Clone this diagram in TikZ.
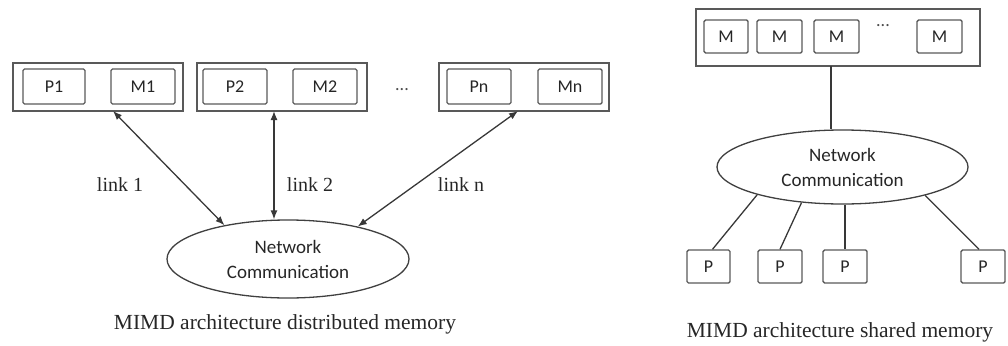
\documentclass[tikz,border=0pt]{standalone}
\usepackage{fontspec}
\setmainfont{Liberation Serif}
\newfontfamily\boxfont{Carlito}
\usetikzlibrary{shapes.geometric,arrows.meta,calc}

\tikzset{
  wire/.style={draw=black!78, line width=1.3pt},
  linkarrow/.style={wire, {Latex[length=9pt,width=7pt]}-{Latex[length=9pt,width=7pt]}},
  holder/.style={draw=black!65, line width=1.4pt, minimum height=#1, inner sep=0pt},
  cell/.style={draw=black!65, line width=1.4pt, rounded corners=1.5pt, inner sep=0pt,
    minimum height=33pt, font=\boxfont\fontsize{18}{20}\selectfont, text=black!85},
  net/.style={ellipse, draw=black!75, line width=1.3pt, inner sep=0pt, align=center,
    font=\boxfont\fontsize{19}{25}\selectfont, text=black!85},
  lbl/.style={font=\fontsize{20}{24}\selectfont, text=black!85},
  captext/.style={font=\fontsize{21.5}{24}\selectfont, text=black!85}
}

\begin{document}
\begin{tikzpicture}[x=1pt,y=-1pt]
\useasboundingbox (0,0) rectangle (1008,345);

% ---- distributed memory ----
\node[holder=48pt, minimum width=170pt] (o1) at (98,87) {};
\node[holder=48pt, minimum width=170pt] (o2) at (282,87) {};
\node[holder=48pt, minimum width=170pt] (on) at (524,87) {};

\node[cell, minimum width=62pt, minimum height=35pt] (p1) at (54,86.5) {P1};
\node[cell, minimum width=64pt, minimum height=35pt] (m1) at (143,86.5) {M1};
\node[cell, minimum width=64pt, minimum height=35pt] (p2) at (235,86.5) {P2};
\node[cell, minimum width=64pt, minimum height=35pt] (m2) at (325,86.5) {M2};
\node[cell, minimum width=64pt, minimum height=35pt] (pn) at (479,86.5) {Pn};
\node[cell, minimum width=64pt, minimum height=35pt] (mn) at (570,86.5) {Mn};
\node[font=\boxfont\fontsize{18}{20}\selectfont, text=black!70] (dotsL) at (402,90) {...};

\node[net, minimum width=242pt, minimum height=78pt] (netL) at (288,259)
  {Network\\Communication};

\coordinate (t1) at (113,111);
\coordinate (t2) at (274,111);
\coordinate (tn) at (518,111);

\draw[linkarrow] (t1) -- (netL.152);
\draw[linkarrow] (t2) -- (t2 |- netL.north);
\draw[linkarrow] (tn) -- (netL.25);

\node[lbl] (l1) at (120,185) {link 1};
\node[lbl] (l2) at (310,185) {link 2};
\node[lbl] (ln) at (461,185) {link n};

\node[captext] (capL) at (285,324) {MIMD architecture distributed memory};

% ---- shared memory ----
\node[holder=57pt, minimum width=284pt] (mem) at (838,37.5) {};
\node[cell, minimum width=44pt] (ma) at (726,36.5) {M};
\node[cell, minimum width=45pt] (mb) at (779.5,36.5) {M};
\node[cell, minimum width=45pt] (mc) at (836.5,36.5) {M};
\node[cell, minimum width=45pt] (md) at (939.5,36.5) {M};
\node[font=\boxfont\fontsize{18}{20}\selectfont, text=black!70] (dotsR) at (883,26) {...};

\node[net, minimum width=251pt, minimum height=74pt] (netR) at (842.5,167)
  {Network\\Communication};

\coordinate (stem) at (831,66);
\draw[wire] (stem) -- (stem |- netR.north);

\node[cell, minimum width=43pt] (pa) at (708.5,266.5) {P};
\node[cell, minimum width=44pt] (pb) at (780,266.5) {P};
\node[cell, minimum width=44pt] (pc) at (845,266.5) {P};
\node[cell, minimum width=44pt] (pd) at (983,266.5) {P};

\draw[wire] (netR.198) -- ($(pa.north)+(4,0)$);
\draw[wire] (netR.221) -- (pb.north);
\draw[wire] (pc.north |- netR.south) -- (pc.north);
\draw[wire] (netR.341) -- ($(pd.north)+(-4,0)$);

\node[captext] (capR) at (840,332) {MIMD architecture shared memory};
\end{tikzpicture}
\end{document}
